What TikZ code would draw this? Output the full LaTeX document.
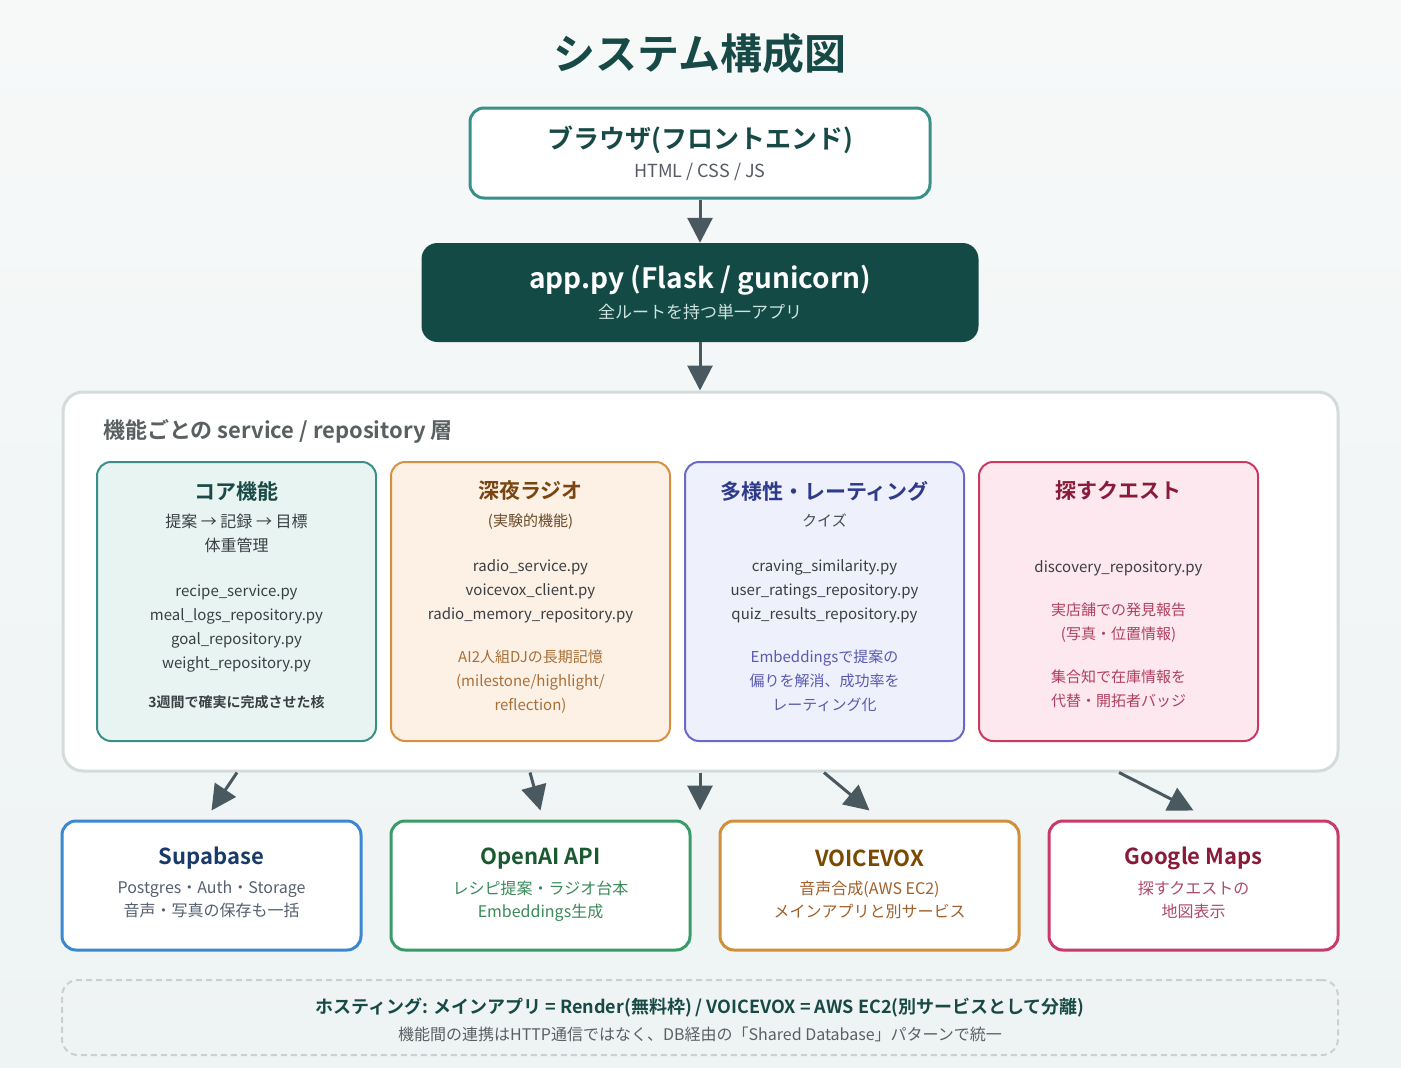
\documentclass[tikz,border=0pt]{standalone}
\usepackage{fontspec}
\setmainfont{Noto Sans CJK JP}[BoldFont={Noto Sans CJK JP Bold}]
\usepackage{tikz}
\usetikzlibrary{arrows.meta, positioning, backgrounds}
\usepackage{xcolor}

\definecolor{bgtop}{HTML}{F7F9F9}
\definecolor{bgbot}{HTML}{EEF3F3}
\definecolor{titlecol}{HTML}{174A46}
\definecolor{tealline}{HTML}{3A9088}
\definecolor{arrowgray}{HTML}{4A5860}
\definecolor{appfill}{HTML}{134A46}
\definecolor{appsub}{HTML}{CFE3DF}
\definecolor{subgray}{HTML}{555A66}
\definecolor{layerline}{HTML}{D3DBDB}
\definecolor{labelgray}{HTML}{5A6062}
\definecolor{bodytext}{HTML}{3A3F44}
\definecolor{corefill}{HTML}{E8F4F1}
\definecolor{coretitle}{HTML}{1A4A48}
\definecolor{radiofill}{HTML}{FDF0E4}
\definecolor{radioline}{HTML}{D69040}
\definecolor{radiotitle}{HTML}{7A4510}
\definecolor{radiosub}{HTML}{6A4A2A}
\definecolor{radionote}{HTML}{A8703A}
\definecolor{divfill}{HTML}{EEF0FB}
\definecolor{divline}{HTML}{6A68C8}
\definecolor{divtitle}{HTML}{2E3A8A}
\definecolor{divsub}{HTML}{444A55}
\definecolor{divnote}{HTML}{5A5AB0}
\definecolor{questfill}{HTML}{FCE8EE}
\definecolor{questline}{HTML}{C83A60}
\definecolor{questtitle}{HTML}{8A1A3A}
\definecolor{questnote}{HTML}{B04060}
\definecolor{supaline}{HTML}{3A88D0}
\definecolor{supatitle}{HTML}{1A3A6A}
\definecolor{supasub}{HTML}{556070}
\definecolor{oailine}{HTML}{3A9A68}
\definecolor{oaititle}{HTML}{1A5A30}
\definecolor{oaisub}{HTML}{3A8A5A}
\definecolor{vvline}{HTML}{D0903A}
\definecolor{vvtitle}{HTML}{7A4A00}
\definecolor{vvsub}{HTML}{A0602A}
\definecolor{gmline}{HTML}{C83A6A}
\definecolor{gmtitle}{HTML}{8A1A3A}
\definecolor{gmsub}{HTML}{B04A6A}
\definecolor{hostline}{HTML}{C8D0D2}
\definecolor{hostsub}{HTML}{5A6066}

\newcommand{\bigline}[1]{{\fontsize{16}{24}\selectfont #1}}

\begin{document}
\begin{tikzpicture}[x=1pt, y=-1pt, node distance=13pt,
  every node/.style={inner sep=0pt},
  flow/.style={-{Triangle[length=25pt,width=25pt]}, line width=3pt, draw=arrowgray},
  featbox/.style={rectangle, rounded corners=14pt, line width=2pt, minimum width=279pt, minimum height=279pt},
  svcbox/.style={rectangle, rounded corners=14pt, line width=3pt, fill=white, minimum width=299pt, minimum height=129pt},
  boxtitle/.style={font=\fontsize{21}{24}\selectfont\bfseries},
  svctitle/.style={font=\fontsize{22}{26}\selectfont\bfseries},
  boxbody/.style={font=\fontsize{15}{24}\selectfont, align=center, anchor=north},
  svcbody/.style={font=\fontsize{16}{23}\selectfont, align=center, anchor=north}]
\fill[top color=bgtop, bottom color=bgbot] (0,0) rectangle (1401,1068);

\node[font=\fontsize{42}{48}\selectfont\bfseries, text=titlecol] (title) at (700,54) {システム構成図};

% browser and app
\node[rectangle, rounded corners=14pt, draw=tealline, line width=3pt, fill=white, minimum width=460pt, minimum height=90pt] (browser) at (700,153) {};
\node[font=\fontsize{26}{30}\selectfont\bfseries, text=titlecol] (browsertitle) at (700,140) {ブラウザ(フロントエンド)};
\node[font=\fontsize{18}{22}\selectfont, text=subgray] (browsersub) at (700,172) {HTML / CSS / JS};

\node[rectangle, rounded corners=16pt, fill=appfill, minimum width=557pt, minimum height=99pt] (app) at (700,292.5) {};
\node[font=\fontsize{28}{32}\selectfont\bfseries, text=white] (apptitle) at (700,280) {app.py (Flask / gunicorn)};
\node[font=\fontsize{17}{20}\selectfont, text=appsub] (appsub) at (700,312.5) {全ルートを持つ単一アプリ};

% layer
\node[rectangle, rounded corners=20pt, draw=layerline, line width=3pt, fill=white, minimum width=1275pt, minimum height=379pt] (layer) at (700.5,581.5) {};
\node[anchor=west, font=\fontsize{22}{26}\selectfont\bfseries, text=labelgray] (layerlabel) at (103,431) {機能ごとの service / repository 層};

\node[featbox, draw=tealline, fill=corefill] (core) at (236.5,601.5) {};
\node[featbox, draw=radioline, fill=radiofill, right=of core] (radio) {};
\node[featbox, draw=divline, fill=divfill, right=of radio] (diversity) {};
\node[featbox, draw=questline, fill=questfill, right=of diversity] (quest) {};

\node[boxtitle, text=coretitle] (coretitle) at ([yshift=-30pt]core.north) {コア機能};
\node[boxbody, text=bodytext] (corebody) at ([yshift=-53pt]core.north) {\bigline{提案 → 記録 → 目標}\\ \bigline{体重管理}\\[21pt]
  recipe\_service.py\\ meal\_logs\_repository.py\\ goal\_repository.py\\ weight\_repository.py\\[15pt]
  {\fontsize{14}{16}\selectfont\bfseries 3週間で確実に完成させた核}};

\node[boxtitle, text=radiotitle] (radiotitle) at ([yshift=-30pt]radio.north) {深夜ラジオ};
\node[boxbody, text=bodytext] (radiobody) at ([yshift=-53pt]radio.north) {{\color{radiosub}(実験的機能)}\\[21pt]
  radio\_service.py\\ voicevox\_client.py\\ radio\_memory\_repository.py\\[19pt]
  {\color{radionote}AI2人組DJの長期記憶}\\ {\color{radionote}(milestone/highlight/}\\ {\color{radionote}reflection)}};

\node[boxtitle, text=divtitle] (divtitle) at ([yshift=-30pt]diversity.north) {多様性・レーティング};
\node[boxbody, text=bodytext] (divbody) at ([yshift=-53pt]diversity.north) {{\color{divsub}クイズ}\\[21pt]
  craving\_similarity.py\\ user\_ratings\_repository.py\\ quiz\_results\_repository.py\\[19pt]
  {\color{divnote}Embeddingsで提案の}\\ {\color{divnote}偏りを解消、成功率を}\\ {\color{divnote}レーティング化}};

\node[boxtitle, text=questtitle] (questtitle) at ([yshift=-30pt]quest.north) {探すクエスト};
\node[boxbody, text=bodytext] (questbody) at ([yshift=-99pt]quest.north) {discovery\_repository.py\\[19pt]
  {\color{questnote}実店舗での発見報告}\\ {\color{questnote}(写真・位置情報)}\\[19pt]
  {\color{questnote}集合知で在庫情報を}\\ {\color{questnote}代替・開拓者バッジ}};

% services
\node[svcbox, draw=supaline] (supabase) at (211.5,885.5) {};
\node[svcbox, draw=oailine, right=27pt of supabase] (openai) {};
\node[svcbox, draw=vvline, right=27pt of openai] (voicevox) {};
\node[svcbox, draw=gmline, minimum width=289pt, right=27pt of voicevox] (gmaps) {};

\node[svctitle, text=supatitle] (supatitle) at ([yshift=-39pt]supabase.north) {Supabase};
\node[svcbody, text=supasub] (supabody) at ([yshift=-61pt]supabase.north) {Postgres・Auth・Storage\\ 音声・写真の保存も一括};
\node[svctitle, text=oaititle] (oaititle) at ([yshift=-39pt]openai.north) {OpenAI API};
\node[svcbody, text=oaisub] (oaibody) at ([yshift=-61pt]openai.north) {レシピ提案・ラジオ台本\\ Embeddings生成};
\node[svctitle, text=vvtitle] (vvtitle) at ([yshift=-39pt]voicevox.north) {VOICEVOX};
\node[svcbody, text=vvsub] (vvbody) at ([yshift=-61pt]voicevox.north) {音声合成(AWS EC2)\\ メインアプリと別サービス};
\node[svctitle, text=gmtitle] (gmtitle) at ([yshift=-39pt]gmaps.north) {Google Maps};
\node[svcbody, text=gmsub] (gmbody) at ([yshift=-61pt]gmaps.north) {探すクエストの\\ 地図表示};

% hosting
\node[rectangle, rounded corners=16pt, draw=hostline, line width=2pt, dash pattern=on 6pt off 4pt, minimum width=1276pt, minimum height=75pt] (hosting) at (700,1017.5) {};
\node[font=\fontsize{18}{22}\selectfont\bfseries, text=titlecol] (hostmain) at (700,1008) {ホスティング: メインアプリ = Render(無料枠) / VOICEVOX = AWS EC2(別サービスとして分離)};
\node[font=\fontsize{16}{19}\selectfont, text=hostsub] (hostnote) at (700,1034.5) {機能間の連携はHTTP通信ではなく、DB経由の「Shared Database」パターンで統一};

% arrows
\draw[flow] (browser.south) -- (app.north);
\draw[flow] (app.south) -- (app.south |- layer.north);
\draw[flow] (layer.south -| 237,0) -- ([yshift=9pt]supabase.north);
\draw[flow] (layer.south -| 530,0) -- ([yshift=9pt]openai.north);
\draw[flow] (layer.south -| 700,0) -- ([yshift=9pt]openai.north -| 700,0);
\draw[flow] (layer.south -| 824,0) -- ([yshift=9pt]voicevox.north);
\draw[flow] (layer.south -| 1119,0) -- ([yshift=9pt]gmaps.north);
\end{tikzpicture}
\end{document}
